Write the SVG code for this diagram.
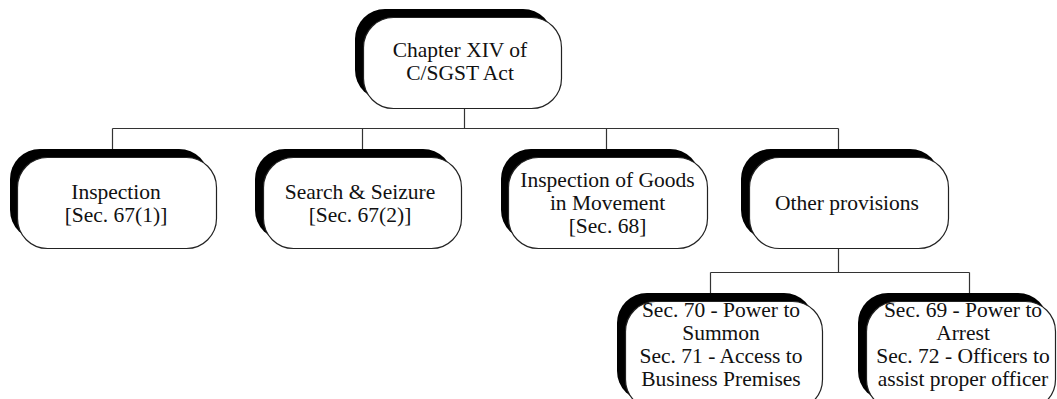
<svg xmlns="http://www.w3.org/2000/svg" width="1057" height="399" viewBox="0 0 1057 399">
<style>
.sh{fill:#000}
.bx{fill:#fff;stroke:#222;stroke-width:1.2}
.t{font-family:"Liberation Serif","Times New Roman",serif;font-size:21.5px;fill:#111;text-anchor:middle}
.c{fill:none;stroke:#333;stroke-width:1.2}
</style>
<rect width="1057" height="399" fill="#fff"/>
<g id="connectors">
<path class="c" d="M464.5 108V128.5M112.5 128.5H838.5M112.5 128.5V149M362.5 128.5V149M606.5 128.5V149M838.5 128.5V149"/>
<path class="c" d="M838.5 248V272.5M710.5 272.5H969.5M710.5 272.5V293M969.5 272.5V293"/>
</g>
<g id="n-chapter">
<rect class="sh" x="355" y="9" width="198" height="91" rx="30"/>
<rect class="bx" x="363.5" y="17.5" width="198" height="91" rx="30"/>
<text class="t" x="460" y="56.5">Chapter XIV of<tspan x="460" dy="23">C/SGST Act</tspan></text>
</g>
<g id="n-inspection">
<rect class="sh" x="10" y="149" width="199" height="91" rx="30"/>
<rect class="bx" x="17.5" y="157.5" width="199" height="91" rx="30"/>
<text class="t" x="116" y="198.5">Inspection<tspan x="116" dy="23">[Sec. 67(1)]</tspan></text>
</g>
<g id="n-search">
<rect class="sh" x="255" y="149" width="198" height="91" rx="30"/>
<rect class="bx" x="263.5" y="157.5" width="198" height="91" rx="30"/>
<text class="t" x="360" y="198.5">Search &amp; Seizure<tspan x="360" dy="23">[Sec. 67(2)]</tspan></text>
</g>
<g id="n-goods">
<rect class="sh" x="501" y="149" width="199" height="91" rx="30"/>
<rect class="bx" x="508.5" y="157.5" width="199" height="91" rx="30"/>
<text class="t" x="607.5" y="187">Inspection of Goods<tspan x="607.5" dy="23">in Movement</tspan><tspan x="607.5" dy="23">[Sec. 68]</tspan></text>
</g>
<g id="n-other">
<rect class="sh" x="741" y="149" width="199" height="91" rx="30"/>
<rect class="bx" x="749.5" y="157.5" width="199" height="91" rx="30"/>
<text class="t" x="847" y="210">Other provisions</text>
</g>
<g id="n-sec70">
<rect class="sh" x="617" y="293" width="197" height="108" rx="30"/>
<rect class="bx" x="625.5" y="301.5" width="197" height="108" rx="30"/>
<text class="t" x="721" y="317">Sec. 70 - Power to<tspan x="721" dy="23">Summon</tspan><tspan x="721" dy="22.5">Sec. 71 - Access to</tspan><tspan x="721" dy="23">Business Premises</tspan></text>
</g>
<g id="n-sec69">
<rect class="sh" x="858" y="293" width="190" height="108" rx="30"/>
<rect class="bx" x="866.5" y="301.5" width="189" height="108" rx="30"/>
<text class="t" x="963" y="317">Sec. 69 - Power to<tspan x="963" dy="23">Arrest</tspan><tspan x="963" dy="22.5">Sec. 72 - Officers to</tspan><tspan x="963" dy="23">assist proper officer</tspan></text>
</g>
</svg>
